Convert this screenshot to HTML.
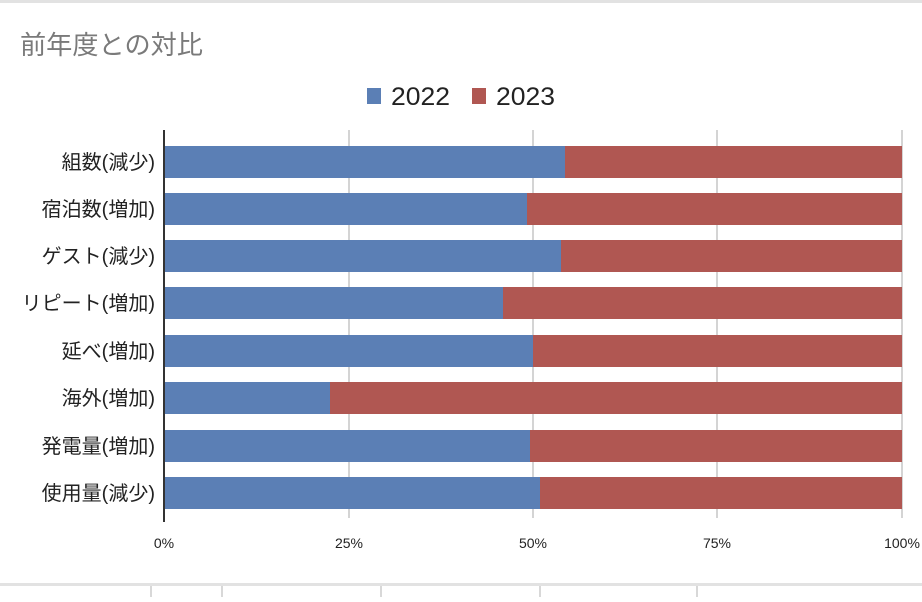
<!DOCTYPE html>
<html><head><meta charset="utf-8"><style>
body{margin:0;background:#fff;}
svg text{font-family:"Liberation Sans","Noto Sans CJK JP",sans-serif;}
</style></head><body>
<svg width="922" height="597" xmlns="http://www.w3.org/2000/svg">
<rect x="0" y="0" width="922" height="3" fill="#e2e2e2"/>
<rect x="0" y="583" width="922" height="3" fill="#e2e2e2"/>
<g stroke="#d8d8d8" stroke-width="2">
<line x1="151" y1="586" x2="151" y2="597"/><line x1="222" y1="586" x2="222" y2="597"/>
<line x1="381" y1="586" x2="381" y2="597"/><line x1="540" y1="586" x2="540" y2="597"/>
<line x1="697" y1="586" x2="697" y2="597"/>
</g>
<text x="20" y="54" font-size="26" fill="#7a7a7a" textLength="183" lengthAdjust="spacingAndGlyphs">前年度との対比</text>
<rect x="367" y="88" width="14" height="16" fill="#5b7fb5"/>
<text x="391" y="105" font-size="25" fill="#222" textLength="59" lengthAdjust="spacingAndGlyphs">2022</text>
<rect x="472" y="88" width="14" height="16" fill="#b05752"/>
<text x="496" y="105" font-size="25" fill="#222" textLength="59" lengthAdjust="spacingAndGlyphs">2023</text>
<g stroke="#d4d4d4" stroke-width="2">
<line x1="349" y1="130" x2="349" y2="518"/><line x1="533" y1="130" x2="533" y2="518"/>
<line x1="717" y1="130" x2="717" y2="518"/><line x1="902" y1="130" x2="902" y2="518"/>
</g>
<line x1="164" y1="130" x2="164" y2="522" stroke="#333" stroke-width="2"/>
<g font-size="14" fill="#222" text-anchor="middle">
<text x="164" y="548">0%</text><text x="349" y="548">25%</text><text x="533" y="548">50%</text><text x="717" y="548">75%</text><text x="902" y="548">100%</text>
</g>
<g font-size="20" fill="#222" text-anchor="end">
<rect x="165" y="146" width="400" height="32" fill="#5b7fb5"/><rect x="565" y="146" width="337" height="32" fill="#b05752"/>
<text x="155" y="169">組数(減少)</text>
<rect x="165" y="193" width="362" height="32" fill="#5b7fb5"/><rect x="527" y="193" width="375" height="32" fill="#b05752"/>
<text x="155" y="216">宿泊数(増加)</text>
<rect x="165" y="240" width="396" height="32" fill="#5b7fb5"/><rect x="561" y="240" width="341" height="32" fill="#b05752"/>
<text x="155" y="263">ゲスト(減少)</text>
<rect x="165" y="287" width="338" height="32" fill="#5b7fb5"/><rect x="503" y="287" width="399" height="32" fill="#b05752"/>
<text x="155" y="310">リピート(増加)</text>
<rect x="165" y="335" width="368" height="32" fill="#5b7fb5"/><rect x="533" y="335" width="369" height="32" fill="#b05752"/>
<text x="155" y="358">延べ(増加)</text>
<rect x="165" y="382" width="165" height="32" fill="#5b7fb5"/><rect x="330" y="382" width="572" height="32" fill="#b05752"/>
<text x="155" y="405">海外(増加)</text>
<rect x="165" y="430" width="365" height="32" fill="#5b7fb5"/><rect x="530" y="430" width="372" height="32" fill="#b05752"/>
<text x="155" y="453">発電量(増加)</text>
<rect x="165" y="477" width="375" height="32" fill="#5b7fb5"/><rect x="540" y="477" width="362" height="32" fill="#b05752"/>
<text x="155" y="500">使用量(減少)</text>
</g>
</svg>
</body></html>
